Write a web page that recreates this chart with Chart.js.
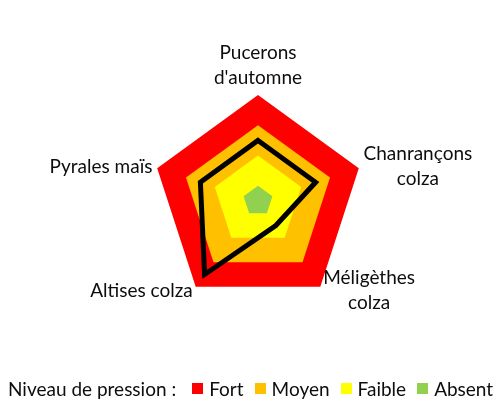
<!DOCTYPE html>
<html>
<head>
<meta charset="utf-8">
<script src="https://cdn.jsdelivr.net/npm/chart.js@4.4.1/dist/chart.umd.min.js"></script>
<style>
  html, body { margin: 0; padding: 0; background: #fff; }
  #wrap { position: relative; width: 503px; height: 411px; }
  #legende {
    position: absolute; left: 8px; top: 377px; height: 22px;
    display: flex; align-items: center;
    font-family: Lato, sans-serif; font-size: 19px; color: #0d0d0d; white-space: nowrap;
  }
  #legende .prefix { margin-right: 16px; }
  #legende .box { width: 11px; height: 11px; margin-right: 6px; }
  #legende .txt { margin-right: 11px; }
</style>
</head>
<body>
<div id="wrap">
  <canvas id="radar"></canvas>
  <div id="legende"></div>
</div>
<script>
// Catégories (axes du radar)
const categories = [
    ['Pucerons', "d'automne"],
    ['Chanrançons', 'colza'],
    ['Méligèthes', 'colza'],
    'Altises colza',
    'Pyrales maïs'
];

// Niveau observé (ligne noire)
const observed = [2, 2, 1, 3, 2];

// Bornes des niveaux de pression (zones colorées)
const levelNames = ['Fort', 'Moyen', 'Faible', 'Absent'];
const levelValues = [3.5, 2.5, 1.5, 0.5];
const levelColors = ['#FF0000', '#FFC000', '#FFFF00', '#92D050'];

const legendPrefix = 'Niveau de pression :';

// Jeux de données : la ligne en premier (dessinée au-dessus), puis les zones de la plus petite à la plus grande
const datasets = [{
    label: 'Observé',
    data: observed,
    borderColor: '#000000',
    borderWidth: 5,
    borderJoinStyle: 'miter',
    fill: false,
    pointRadius: 0,
    pointHoverRadius: 0
}];
for (let i = levelNames.length - 1; i >= 0; i--) {
    datasets.push({
        label: levelNames[i],
        data: categories.map(() => levelValues[i]),
        backgroundColor: levelColors[i],
        borderWidth: 0,
        fill: 'origin',
        pointRadius: 0,
        pointHoverRadius: 0
    });
}

// Étiquettes des axes centrées ligne par ligne (comme dans Excel)
const labelFont = '19px Lato';
const labelLineHeight = 25;
const labelGap = 5;
const axisLabels = {
    id: 'axisLabels',
    afterDraw(chart) {
        const scale = chart.scales.r;
        const c = chart.ctx;
        c.save();
        c.font = labelFont;
        c.fillStyle = '#0d0d0d';
        c.textAlign = 'center';
        c.textBaseline = 'middle';
        categories.forEach((label, i) => {
            const lines = Array.isArray(label) ? label : [label];
            const p = scale.getPointPosition(i, scale.drawingArea + labelGap);
            const dx = p.x - scale.xCenter;
            const dy = p.y - scale.yCenter;
            const w = Math.max(...lines.map(l => c.measureText(l).width));
            const h = lines.length * labelLineHeight;
            let left;
            if (Math.abs(dx) < 1) left = p.x - w / 2;
            else if (dx > 0) left = p.x;
            else left = p.x - w;
            const top = (Math.abs(dx) < 1 && dy < 0) ? p.y - h : p.y - h / 2;
            lines.forEach((l, j) => {
                c.fillText(l, left + w / 2, top + labelLineHeight * j + labelLineHeight / 2);
            });
        });
        c.restore();
    }
};

const ctx = document.getElementById('radar').getContext('2d');
new Chart(ctx, {
    type: 'radar',
    data: { labels: categories, datasets: datasets },
    options: {
        responsive: true,
        maintainAspectRatio: false,
        animation: false,
        layout: { padding: { top: 95, bottom: 104, left: 13, right: 0 } },
        elements: { line: { tension: 0 } },
        scales: {
            r: {
                min: 0,
                max: 3.5,
                ticks: { display: false, stepSize: 0.5 },
                grid: { display: false },
                angleLines: { display: false },
                pointLabels: { display: false }
            }
        },
        plugins: {
            tooltip: { enabled: false },
            legend: { display: false }
        }
    },
    plugins: [axisLabels]
});

// Légende
const legende = document.getElementById('legende');
const pre = document.createElement('span');
pre.className = 'prefix';
pre.textContent = legendPrefix;
legende.appendChild(pre);
levelNames.forEach((name, i) => {
    const box = document.createElement('span');
    box.className = 'box';
    box.style.background = levelColors[i];
    const txt = document.createElement('span');
    txt.className = 'txt';
    txt.textContent = name;
    legende.appendChild(box);
    legende.appendChild(txt);
});
</script>
</body>
</html>
